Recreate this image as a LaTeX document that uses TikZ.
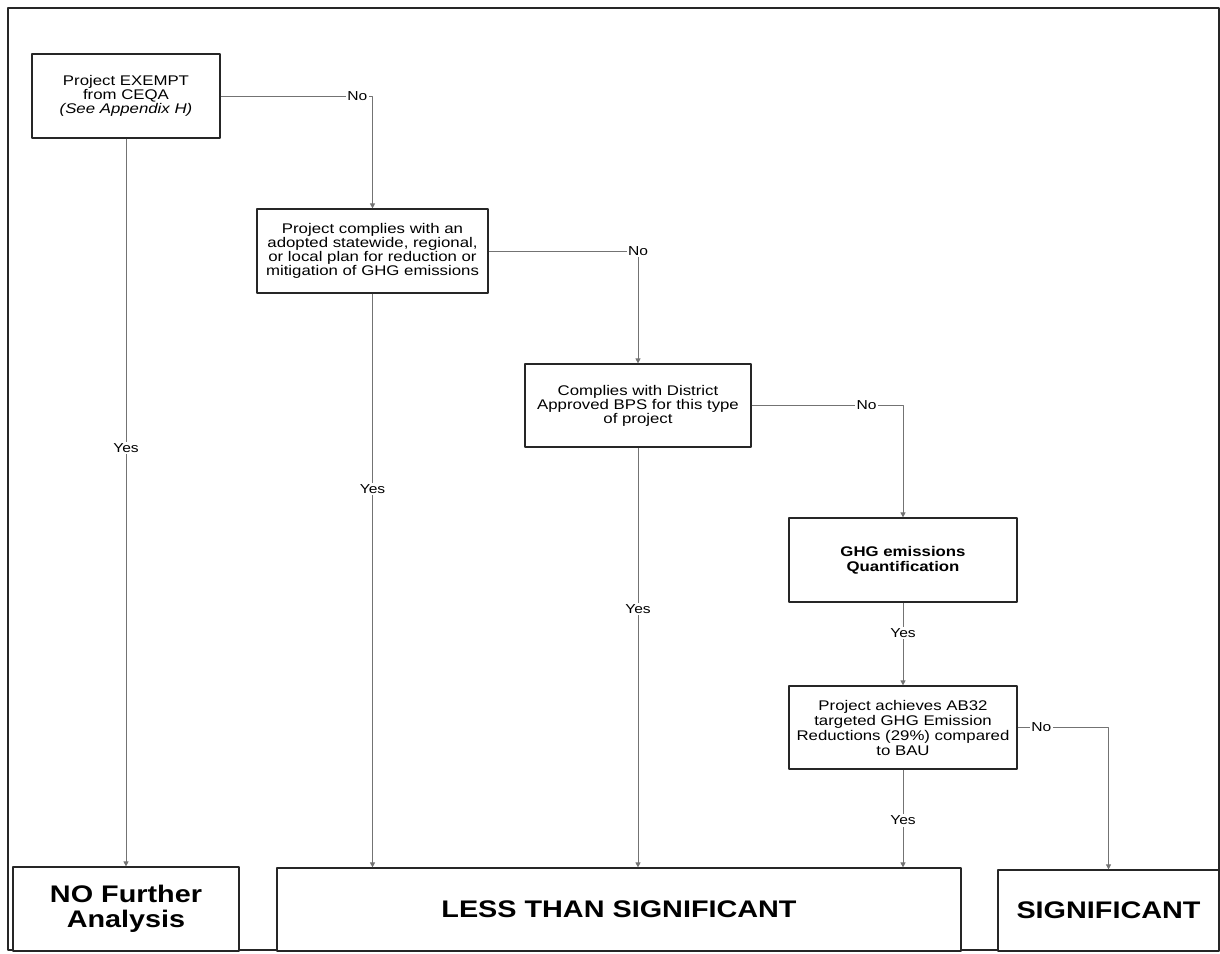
\documentclass[tikz,border=0pt]{standalone}
\usepackage{fontspec}
\setmainfont{Liberation Sans}[FakeStretch=1.2]
\usetikzlibrary{arrows.meta}

\tikzset{
  decision/.style={draw=black!85, line width=1.2pt, fill=white, align=center,
    inner sep=2pt, font=\fontsize{14}{14}\selectfont},
  outcome/.style={draw=black!85, line width=1.2pt, fill=white, align=center,
    inner sep=2pt, font=\bfseries\fontsize{24}{25}\selectfont},
  link/.style={draw=black!55, line width=0.8pt, ->},
  answer/.style={fill=white, inner sep=1.5pt, font=\fontsize{13}{13}\selectfont}
}

\begin{document}
\begin{tikzpicture}[x=1pt, y=-1pt, line join=round, >={Triangle[width=5pt,length=5pt]}]
  \useasboundingbox (0,0) rectangle (1220,953);
  % Outer frame of the page.
  \draw[line width=2pt, black!85] (8,8) rectangle (1219,950);

  % Question boxes, top left to bottom right.
  \node[decision, minimum width=188, minimum height=84] (exempt) at (126,96)
    {Project EXEMPT\\from CEQA\\\textit{(See Appendix H)}};
  \node[decision, minimum width=231, minimum height=84] (plan) at (372.5,251)
    {Project complies with an\\adopted statewide, regional,\\or local plan for reduction or\\mitigation of GHG emissions};
  \node[decision, minimum width=226, minimum height=83] (bps) at (638,405.5)
    {Complies with District\\Approved BPS for this type\\of project};
  \node[decision, minimum width=228, minimum height=84, font=\bfseries\fontsize{14}{15}\selectfont] (quant) at (903,560)
    {GHG emissions\\Quantification};
  \node[decision, minimum width=228, minimum height=83, font=\fontsize{14}{15}\selectfont] (ab32) at (903,727.5)
    {Project achieves AB32\\targeted GHG Emission\\Reductions (29\%) compared\\to BAU};

  % Outcome boxes along the bottom edge.
  \node[outcome, minimum width=226, minimum height=84] (nofurther) at (126,909)
    {NO Further\\Analysis};
  \node[outcome, minimum width=684, minimum height=83] (less) at (619,909.5)
    {LESS THAN SIGNIFICANT};
  \node[outcome, minimum width=221, minimum height=81] (signif) at (1108.5,910.5)
    {SIGNIFICANT};

  % "No" branches step right and down.
  \draw[link] (exempt.east) -| node[answer, pos=0.45] {No} (plan.north);
  \draw[link] (plan.east) -| node[answer, pos=0.5] {No} (bps.north);
  \draw[link] (bps.east) -| node[answer, pos=0.38] {No} (quant.north);
  \draw[link] (ab32.east) -| node[answer, pos=0.13] {No} (signif.north);

  % "Yes" branches drop straight down.
  \draw[link] (exempt.south) -- node[answer, pos=0.425] {Yes} (nofurther.north);
  \draw[link] (plan.south) -- node[answer, pos=0.34] {Yes} (plan.south |- less.north);
  \draw[link] (bps.south) -- node[answer, pos=0.385] {Yes} (bps.south |- less.north);
  \draw[link] (quant.south) -- node[answer, pos=0.37] {Yes} (ab32.north);
  \draw[link] (ab32.south) -- node[answer, pos=0.52] {Yes} (ab32.south |- less.north);
\end{tikzpicture}
\end{document}
